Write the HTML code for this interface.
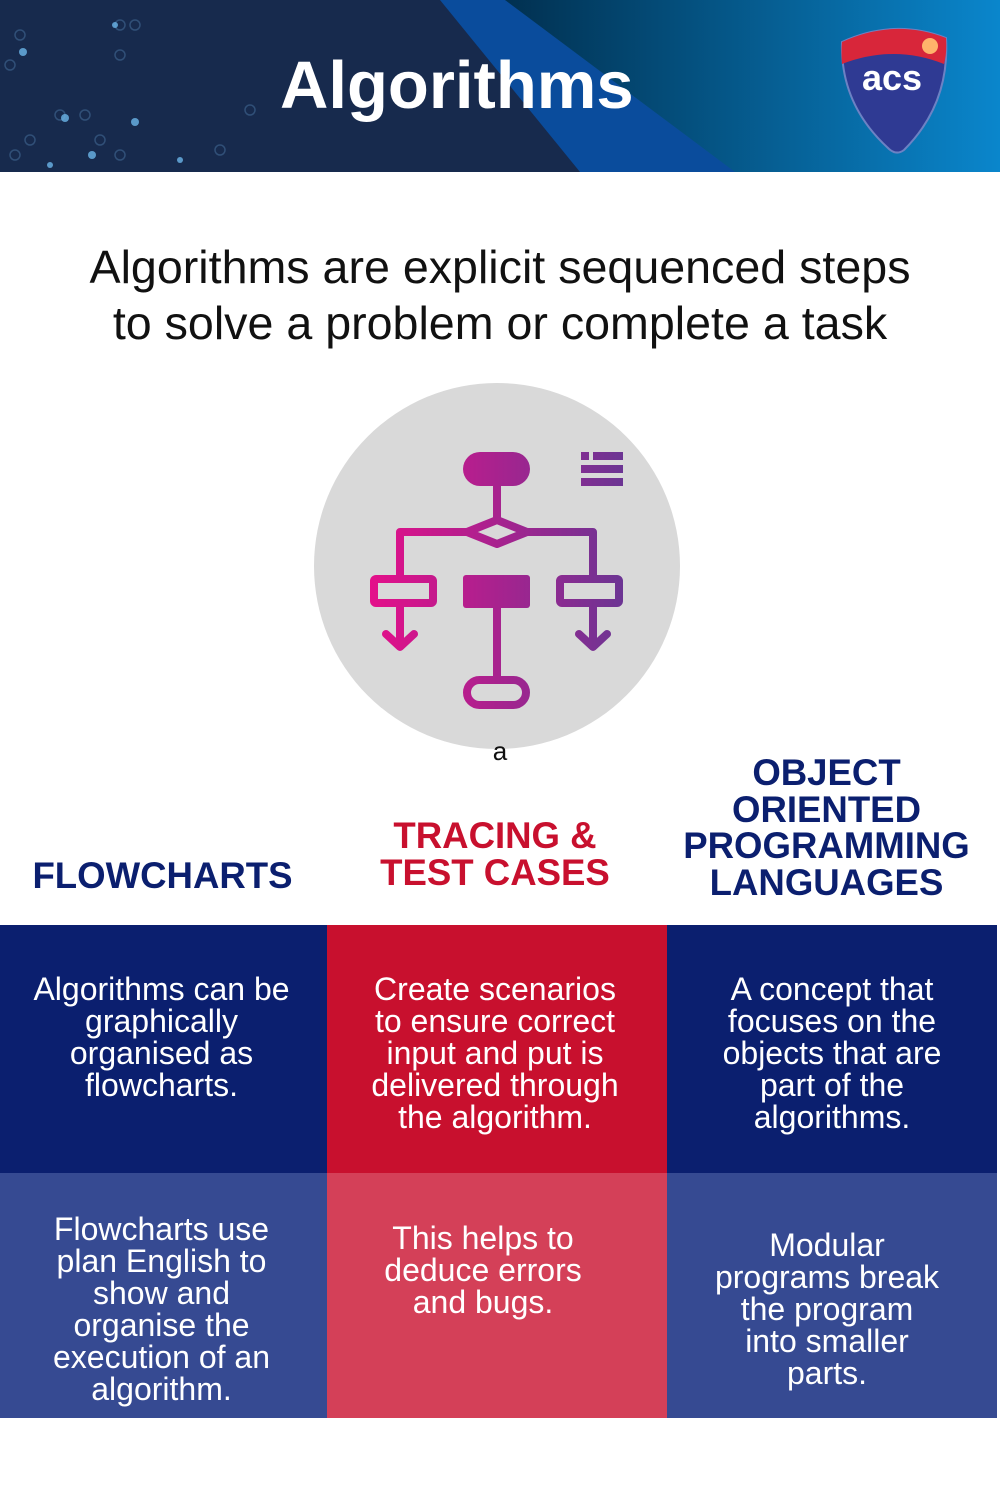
<!DOCTYPE html>
<html><head><meta charset="utf-8"><style>
body{margin:0;width:1000px;height:1500px;background:#fff;font-family:"Liberation Sans",sans-serif;position:relative;overflow:hidden}
.a{position:absolute}
.hdr{left:0;top:0;width:1000px;height:172px;background:#14284c;overflow:hidden}
.c{text-align:center;color:#fff;font-size:32px;line-height:32px}
h2{position:absolute;margin:0;font-size:36.6px;line-height:36.5px;text-align:center;font-weight:bold}
</style></head><body>
<div class="a hdr">
<svg width="1000" height="172" style="position:absolute;left:0;top:0">
<defs><linearGradient id="hg" x1="0" x2="1"><stop offset="0" stop-color="#013050"/><stop offset="1" stop-color="#0a86cc"/></linearGradient></defs>
<rect width="1000" height="172" fill="#172a4d"/>
<polygon points="440,0 1000,0 1000,172 580,172" fill="#0a4c9c"/>
<polygon points="505,0 1000,0 1000,172 735,172" fill="url(#hg)"/>
<g fill="none" stroke="#3b5f8a" stroke-width="1.5" opacity=".7">
<circle cx="120" cy="25" r="5"/><circle cx="135" cy="25" r="5"/><circle cx="20" cy="35" r="5"/><circle cx="10" cy="65" r="5"/><circle cx="120" cy="55" r="5"/><circle cx="60" cy="115" r="5"/><circle cx="85" cy="115" r="5"/><circle cx="30" cy="140" r="5"/><circle cx="15" cy="155" r="5"/><circle cx="100" cy="140" r="5"/><circle cx="120" cy="155" r="5"/><circle cx="250" cy="110" r="5"/><circle cx="220" cy="150" r="5"/></g>
<g fill="#6bb5e8" opacity=".8"><circle cx="23" cy="52" r="4"/><circle cx="115" cy="25" r="3"/><circle cx="65" cy="118" r="4"/><circle cx="135" cy="122" r="4"/><circle cx="92" cy="155" r="4"/><circle cx="180" cy="160" r="3"/><circle cx="50" cy="165" r="3"/></g>
</svg>
<div class="a" style="left:280px;top:48px;font-size:67px;font-weight:bold;color:#fff;line-height:76px">Algorithms</div>
<svg class="a" style="left:834px;top:24px" width="118" height="130" viewBox="0 0 118 130">
<path d="M8,18 Q60,-6 112,14 Q116,80 70,126 Q62,132 54,124 Q6,80 8,18Z" fill="#2f3a93" stroke="#6c82c4" stroke-width="2"/>
<path d="M8,18 Q60,-6 112,14 Q113,30 110,40 Q60,20 8,40 Q7,28 8,18Z" fill="#d8263a"/>
<circle cx="96" cy="22" r="8" fill="#ffb36b"/>
<text x="58" y="66" text-anchor="middle" font-family="Liberation Sans" font-weight="bold" font-size="36" fill="#fff">acs</text>
</svg>
</div>
<div class="a" style="left:0;top:239px;width:1000px;text-align:center;font-size:46.6px;line-height:56px;color:#111">Algorithms are explicit sequenced steps<br>to solve a problem or complete a task</div>
<svg class="a" style="left:0;top:370px" width="1000" height="400" viewBox="0 370 1000 400">
<defs><linearGradient id="g" x1="370" x2="625" gradientUnits="userSpaceOnUse"><stop offset="0" stop-color="#e4108a"/><stop offset="1" stop-color="#6b3593"/></linearGradient></defs>
<circle cx="497" cy="566" r="183" fill="#d9d9d9"/>
<g fill="none" stroke="url(#g)" stroke-width="8" stroke-linejoin="round" stroke-linecap="round">
<line x1="497" y1="486" x2="497" y2="520"/>
<polygon points="467,532 497,520 527,532 497,544"/>
<polyline points="467,532 400,532 400,579"/><polyline points="527,532 593,532 593,579"/>
<rect x="374" y="579" width="59" height="24" rx="2"/><rect x="560" y="579" width="59" height="24" rx="2"/>
<line x1="400" y1="607" x2="400" y2="646"/><polyline points="386,634 400,647 414,634"/>
<line x1="593" y1="607" x2="593" y2="646"/><polyline points="579,634 593,647 607,634"/>
<line x1="497" y1="607" x2="497" y2="678"/>
<rect x="467" y="680" width="59" height="25" rx="12.5"/>
</g>
<g fill="url(#g)">
<rect x="463" y="452" width="67" height="34" rx="17"/><rect x="463" y="575" width="67" height="33" rx="3"/>
<rect x="581" y="452" width="8" height="8"/><rect x="593" y="452" width="30" height="8"/><rect x="581" y="465" width="42" height="8"/><rect x="581" y="478" width="42" height="8"/>
</g>
<text x="500" y="760" text-anchor="middle" font-family="Liberation Sans" font-size="26" fill="#111">a</text>
</svg>
<h2 style="left:0;top:858px;width:325px;color:#0b1f6f">FLOWCHARTS</h2>
<h2 style="left:330px;top:818px;width:330px;color:#c8102e">TRACING &amp;<br>TEST CASES</h2>
<h2 style="left:663px;top:755px;width:327px;color:#0b1f6f">OBJECT<br>ORIENTED<br>PROGRAMMING<br>LANGUAGES</h2>
<div class="a" style="left:0;top:925px;width:327px;height:248px;background:#0b1f6f"></div>
<div class="a" style="left:327px;top:925px;width:340px;height:248px;background:#c8102e"></div>
<div class="a" style="left:667px;top:925px;width:330px;height:248px;background:#0b1f6f"></div>
<div class="a" style="left:0;top:1173px;width:327px;height:245px;background:#364a92"></div>
<div class="a" style="left:327px;top:1173px;width:340px;height:245px;background:#d44058"></div>
<div class="a" style="left:667px;top:1173px;width:330px;height:245px;background:#364a92"></div>
<div class="a c" style="left:-1px;top:973px;width:325px">Algorithms can be<br>graphically<br>organised as<br>flowcharts.</div>
<div class="a c" style="left:330px;top:973px;width:330px">Create scenarios<br>to ensure correct<br>input and put is<br>delivered through<br>the algorithm.</div>
<div class="a c" style="left:667px;top:973px;width:330px">A concept that<br>focuses on the<br>objects that are<br>part of the<br>algorithms.</div>
<div class="a c" style="left:-1px;top:1213px;width:325px">Flowcharts use<br>plan English to<br>show and<br>organise the<br>execution of an<br>algorithm.</div>
<div class="a c" style="left:318px;top:1222px;width:330px">This helps to<br>deduce errors<br>and bugs.</div>
<div class="a c" style="left:662px;top:1229px;width:330px">Modular<br>programs break<br>the program<br>into smaller<br>parts.</div>
</body></html>
